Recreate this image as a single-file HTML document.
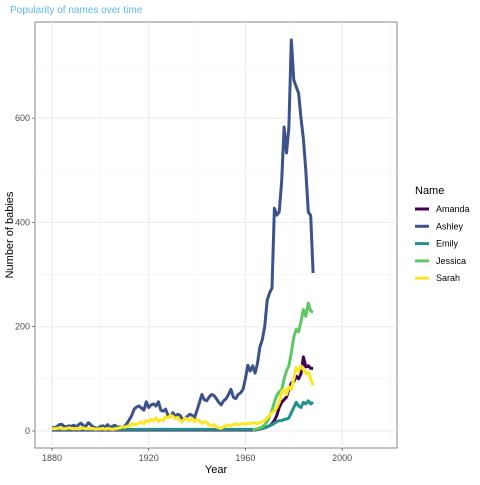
<!DOCTYPE html>
<html><head><meta charset="utf-8"><style>
body{margin:0;background:#fff;font-family:"Liberation Sans",sans-serif}
</style></head><body>
<svg id="c" width="480" height="480" xmlns="http://www.w3.org/2000/svg">
<text x="10" y="13" font-size="10" fill="#5bb8e6">Popularity of names over time</text>
<rect x="35" y="22" width="362" height="426" fill="#fff" stroke="#333" stroke-width="0.6"/>
<g id="grid"></g><g id="lines"></g><g id="axes"></g>
<text x="216" y="473" font-size="11" text-anchor="middle">Year</text>
<text transform="translate(13,235) rotate(-90)" font-size="11" text-anchor="middle">Number of babies</text>
<g id="legend"><text x="415" y="194" font-size="11">Name</text></g>
</svg>
<script>
const names=["Amanda","Ashley","Emily","Jessica","Sarah"];
const colors=["#440154","#3B528B","#21908C","#5DC863","#FDE725"];
const xTicks=[1880,1920,1960,2000];
const yTicks=[0,200,400,600];
const startYears=[1880,1880,1880,1963,1880];
const amanda=[].concat(Array(85).fill(2),[3,4,5,6,8,10,14,20,30,45,55,60,65,80,92,95,105,100,110,142,123,125,120,120]);
const ashley=[7,6,8,12,13,9,8,10,9,11,8,12,15,10,9,16,12,8,6,5,9,10,7,12,6,9,11,7,8,6,9,14,22,30,42,46,48,44,40,56,45,50,52,48,56,40,38,42,30,28,35,28,32,30,22,25,28,32,30,26,40,55,70,60,58,65,70,68,62,55,50,58,62,70,80,65,62,70,73,80,100,126,115,125,111,130,161,175,200,251,265,274,427,414,420,480,583,533,583,750,673,660,648,600,560,500,420,413,303];
const emily=[].concat(Array(85).fill(3),[4,5,5,6,8,10,12,15,18,20,20,22,23,25,35,45,55,48,45,55,52,58,52,55]);
const jessica=[2,3,4,6,8,12,18,28,40,55,68,75,79,100,115,125,150,180,195,190,210,233,220,245,230,228];
const sarah=[5,4,5,6,5,4,5,6,5,4,5,4,5,6,4,5,4,5,3,4,4,5,3,5,4,3,4,5,6,8,7,9,10,14,12,13,15,18,14,20,18,22,20,25,18,22,20,28,25,30,28,24,26,20,18,25,22,20,24,18,22,20,15,18,16,12,10,12,8,6,5,8,10,12,10,12,14,12,13,14,13,15,14,16,15,14,16,18,20,25,30,35,38,45,55,75,80,70,85,80,100,122,115,125,118,110,113,100,87];
const series=[amanda,ashley,emily,jessica,sarah];
const X=y=>52+(y-1880)*(96.7/40);
const Y=v=>431-v*(104.3/200);
const NS="http://www.w3.org/2000/svg";
function mk(t,a,p){const e=document.createElementNS(NS,t);for(const k in a)e.setAttribute(k,a[k]);p.appendChild(e);return e;}
const grid=document.getElementById('grid'),axes=document.getElementById('axes'),lines=document.getElementById('lines'),leg=document.getElementById('legend');
[1900,1940,1980,2020].forEach(t=>{const l=mk('line',{x1:X(t),x2:X(t),y1:22,y2:448,stroke:'#f2f2f2','stroke-width':0.6},grid);

});
[100,300,500,700].forEach(t=>{const l=mk('line',{x1:35,x2:397,y1:Y(t),y2:Y(t),stroke:'#f2f2f2','stroke-width':0.6},grid);

});
xTicks.forEach(t=>{const l=mk('line',{x1:X(t),x2:X(t),y1:22,y2:448,stroke:'#ebebeb','stroke-width':1.1},grid);


const k=mk('line',{x1:X(t),x2:X(t),y1:448,y2:451,stroke:'#333','stroke-width':0.6},axes);


const tx=mk('text',{x:X(t),y:461,'font-size':9,'text-anchor':'middle',fill:'#4d4d4d'},axes);tx.textContent=t;

});
yTicks.forEach(t=>{const l=mk('line',{x1:35,x2:397,y1:Y(t),y2:Y(t),stroke:'#ebebeb','stroke-width':1.1},grid);


const k=mk('line',{x1:32,x2:35,y1:Y(t),y2:Y(t),stroke:'#333','stroke-width':0.6},axes);


const tx=mk('text',{x:30,y:Y(t)+3,'font-size':9,'text-anchor':'end',fill:'#4d4d4d'},axes);tx.textContent=t;

});
series.forEach((s,i)=>{const pts=s.map((v,j)=>X(startYears[i]+j).toFixed(1)+','+Y(v).toFixed(1)).join(' ');
const p=mk('polyline',{points:pts,fill:'none',stroke:colors[i],'stroke-width':3,'stroke-linejoin':'round'},lines);


const yy=209+i*17.3;
const g=mk('g',{},leg);


mk('line',{x1:415,x2:429,y1:yy,y2:yy,stroke:colors[i],'stroke-width':3},g);
const t=mk('text',{x:436,y:yy+3,'font-size':9},g);t.textContent=names[i];});
</script>
</body></html>
